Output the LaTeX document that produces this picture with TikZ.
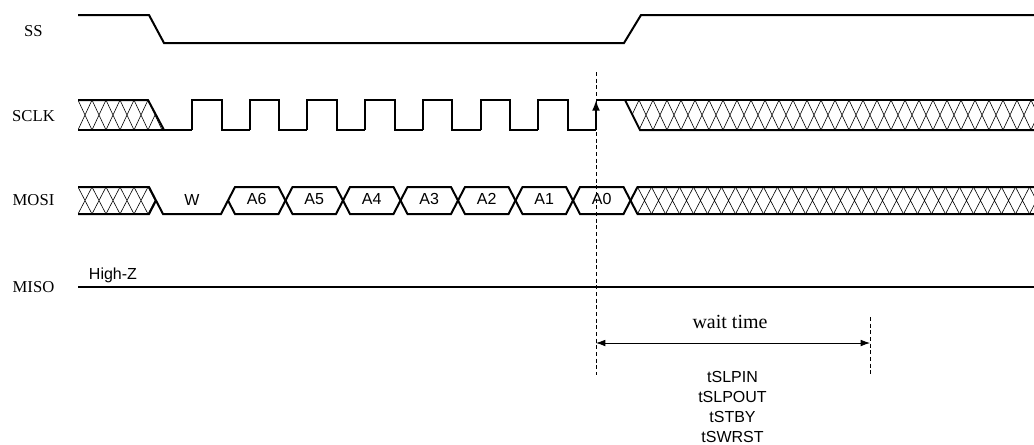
\documentclass[tikz,border=0pt]{standalone}
\usepackage{fontspec}
\setmainfont{Liberation Serif}
\setsansfont{Liberation Sans}
\usetikzlibrary{positioning, arrows.meta, calc}

\begin{document}
\begin{tikzpicture}[x=0.75pt, y=-0.75pt, >={Latex[length=7pt, width=5pt]},
  sig/.style={line width=1.5pt, line join=miter},
  hatch/.style={line width=0.45pt},
  guide/.style={line width=0.5pt, dash pattern=on 3pt off 2pt},
  lbl/.style={font=\fontsize{12.5}{14}\selectfont},
  bus/.style={font=\sffamily\fontsize{12}{13}\selectfont, text height=1.6ex, text depth=0.2ex},
  tname/.style={font=\sffamily\fontsize{12}{15}\selectfont, align=center}]
  \useasboundingbox (0,0) rectangle (1034,444);

  % signal names
  \node[lbl] (ss) at (33.5,31.5) {SS};
  \node[lbl] (sclk) at (33.5,116.5) {SCLK};
  \node[lbl] (mosi) at (33.5,200.5) {MOSI};
  \node[lbl] (miso) at (33.5,287.5) {MISO};

  % SS
  \draw[sig] (78,15) -- (149,15) -- (164,43) -- (624,43) -- (641,15) -- (1034,15);

  % SCLK
  \begin{scope}
    \clip (78,100) -- (148,100) -- (164,130) -- (78,130) -- cycle;
    \foreach \k in {0,...,6}
      \draw[hatch] (78+14*\k,100) -- (92+14*\k,130) (78+14*\k,130) -- (92+14*\k,100);
  \end{scope}
  \draw[sig] (78,100) -- (148,100) -- (164,130);
  \draw[sig] (78,130) -- (192,130);
  \foreach \k [evaluate=\k as \r using 192+57.7*\k] in {0,...,6}
    \draw[sig] (\r,130) -- (\r,100) -- (\r+29.6,100) -- (\r+29.6,130) -- (\r+57.7,130);
  \draw[sig, -{Latex[length=8pt, width=6pt]}] (596,130) -- (596,100);
  \draw[sig] (596,100) -- (1034,100);
  \begin{scope}
    \clip (625,100) -- (1034,100) -- (1034,130) -- (640,130) -- cycle;
    \foreach \k in {0,...,30}
      \draw[hatch] (625+14*\k,100) -- (639+14*\k,130) (625+14*\k,130) -- (639+14*\k,100);
  \end{scope}
  \draw[sig] (625,100) -- (640,130) -- (1034,130);

  % MOSI
  \begin{scope}
    \clip (78,187) -- (149,187) -- (156,200.5) -- (149,214) -- (78,214) -- cycle;
    \foreach \k in {0,...,6}
      \draw[hatch] (78+14*\k,187) -- (92+14*\k,214) (78+14*\k,214) -- (92+14*\k,187);
  \end{scope}
  \draw[sig] (78,187) -- (149,187) -- (163,214) -- (221,214) -- (228,200.5);
  \draw[sig] (78,214) -- (149,214) -- (156,200.5);
  \node[bus] (w) at (192,201) {W};
  \foreach \lab [count=\i from 0, evaluate=\i as \c using 228+57.5*\i] in {A6,A5,A4,A3,A2,A1,A0} {
    \draw[sig] (\c,200.5) -- (\c+7,187) -- (\c+50.5,187) -- (\c+57.5,200.5)
      -- (\c+50.5,214) -- (\c+7,214) -- cycle;
    \node[bus] (\lab) at (\c+28.75,200.5) {\lab};
  }
  \begin{scope}
    \clip (630.5,200.5) -- (637.5,187) -- (1034,187) -- (1034,214) -- (637.5,214) -- cycle;
    \foreach \k in {0,...,30}
      \draw[hatch] (637.5+14*\k,187) -- (651.5+14*\k,214) (637.5+14*\k,214) -- (651.5+14*\k,187);
  \end{scope}
  \draw[sig] (630.5,200.5) -- (637.5,187) -- (1034,187);
  \draw[sig] (630.5,200.5) -- (637.5,214) -- (1034,214);

  % MISO
  \draw[sig] (78,287) -- (1034,287);
  \node[bus] (hiz) at (113,275.5) {High-Z};

  % wait time
  \coordinate (g0) at (596,72);
  \coordinate (g0e) at (596,375);
  \coordinate (g1) at (870,317);
  \coordinate (g1e) at (870,375);
  \draw[guide] (g0) -- (g0e);
  \draw[guide] (g1) -- (g1e);
  \coordinate (w0) at (596,343);
  \coordinate (w1) at (870,343);
  \draw[<->, line width=0.6pt] (w0) -- (w1);
  \node[font=\fontsize{15}{17}\selectfont] (wait) at (730,321.5) {wait time};
  \node[tname] (tlist) at (732.5,406.5) {tSLPIN\\tSLPOUT\\tSTBY\\tSWRST};
\end{tikzpicture}
\end{document}
